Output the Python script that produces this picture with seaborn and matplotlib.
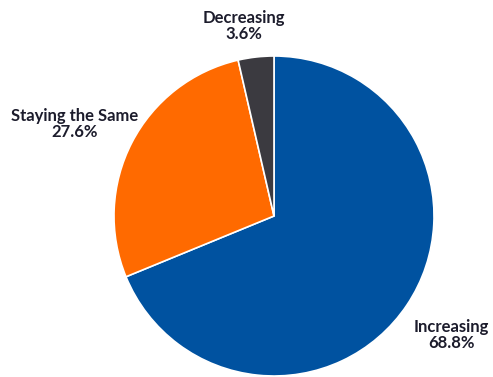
import matplotlib
matplotlib.use("Agg")
import matplotlib.pyplot as plt
import seaborn as sns
import numpy as np

categories = ["Increasing", "Staying the Same", "Decreasing"]
shares = [68.8, 27.6, 3.6]
colors = ["#0052a0", "#ff6a00", "#3b3a40"]

sns.set_theme(style="white")
plt.rcParams['font.family'] = ['Lato', 'DejaVu Sans']

fig = plt.figure(figsize=(4.93, 3.77), dpi=100)
# pie centre ~ (274, 216) px, radius ~160 px
ax = fig.add_axes([114 / 493, 1 / 377, 320 / 493, 320 / 377])
wedges, _ = ax.pie(shares, colors=colors, startangle=90, counterclock=False,
                   radius=1.0, wedgeprops=dict(edgecolor="white", linewidth=1.2))
ax.set_xlim(-1, 1)
ax.set_ylim(-1, 1)
ax.set_aspect("equal")
ax.axis("off")

# label placement: distance from centre and angle shift per wedge
dist = [1.335, 1.37, 1.2]
shift = [0, 2.5, 2.5]
for w, cat, val, d, s in zip(wedges, categories, shares, dist, shift):
    ang = np.deg2rad((w.theta1 + w.theta2) / 2 + s)
    ax.text(d * np.cos(ang), d * np.sin(ang), f"{cat}\n{val}%", ha="center", va="center",
            fontsize=12, fontweight="bold", color="#1c1c2c", linespacing=1.0, clip_on=False)

fig.savefig("out.png", dpi=100)
